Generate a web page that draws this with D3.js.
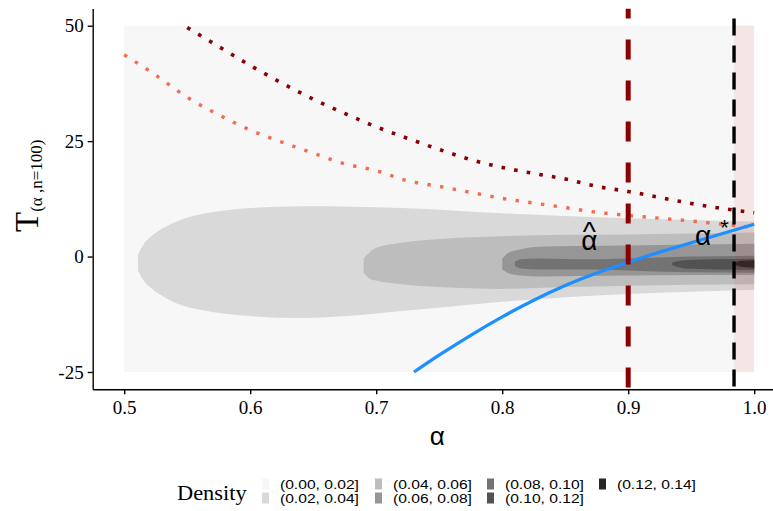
<!DOCTYPE html>
<html>
<head>
<meta charset="utf-8">
<script src="https://cdn.jsdelivr.net/npm/d3@7"></script>
<style>
  body { margin: 0; background: #fff; }
  svg { display: block; }
</style>
</head>
<body>
<svg id="chart"></svg>
<script>
// tick labels
const xTicks = [0.5, 0.6, 0.7, 0.8, 0.9, 1.0];
const yTicks = [-25, 0, 25, 50];

// density legend
const densityLevels = ['(0.00, 0.02]', '(0.02, 0.04]', '(0.04, 0.06]', '(0.06, 0.08]',
  '(0.08, 0.10]', '(0.10, 0.12]', '(0.12, 0.14]'];

// density bands, one per level: alpha, lower and upper T
const band1Alpha = [0.5, 1.0];
const band1Lo = [-25, -25];
const band1Hi = [50, 50];

const band2Alpha = [0.511, 0.515, 0.52, 0.53, 0.545, 0.56, 0.58, 0.6, 0.64, 0.68, 0.72, 0.76, 0.8, 0.85, 0.9, 0.95, 1.0];
const band2Lo = [-3, -5, -6.5, -8.5, -10.5, -11.5, -12.4, -12.9, -13.3, -12.8, -11.8, -10.8, -9.8, -8.8, -8.1, -7.6, -7.2];
const band2Hi = [0.5, 2.5, 4, 6, 8, 9.1, 10, 10.5, 10.9, 10.8, 10.5, 10.0, 9.4, 8.8, 8.3, 7.9, 7.6];

const band3Alpha = [0.69, 0.695, 0.70, 0.72, 0.75, 0.8, 0.85, 0.9, 0.95, 1.0];
const band3Lo = [-3.5, -4.8, -5.2, -6.0, -6.6, -7.0, -6.6, -6.3, -6.1, -6.0];
const band3Hi = [-0.5, 1.0, 1.9, 3.0, 3.8, 4.4, 4.7, 4.8, 5.0, 5.2];

const band4Alpha = [0.80, 0.805, 0.815, 0.83, 0.86, 0.9, 0.95, 1.0];
const band4Lo = [-2.8, -3.6, -4.1, -4.3, -4.2, -4.1, -4.0, -4.0];
const band4Hi = [-0.5, 0.8, 1.6, 2.1, 2.3, 2.4, 2.6, 2.8];

const band5Alpha = [0.81, 0.815, 0.83, 0.87, 0.91, 0.95, 1.0];
const band5Lo = [-2.0, -2.6, -2.8, -2.8, -3.1, -3.4, -3.5];
const band5Hi = [-1.2, -0.6, -0.4, -0.6, -0.3, 0.0, 0.2];

const band6Alpha = [0.935, 0.945, 0.97, 1.0];
const band6Lo = [-1.9, -2.6, -2.8, -2.9];
const band6Hi = [-1.3, -0.8, -0.6, -0.5];

const band7Alpha = [0.984, 0.99, 1.0];
const band7Lo = [-1.7, -2.2, -2.4];
const band7Hi = [-1.3, -0.9, -0.8];

// critical value curves
const curveAlpha = [0.5, 0.525, 0.55, 0.575, 0.6, 0.625, 0.65, 0.675, 0.7, 0.725, 0.75,
  0.775, 0.8, 0.825, 0.85, 0.875, 0.9, 0.925, 0.95, 0.975, 1.0];
const lowerCurve = [43.7, 39.3, 34.5, 30.7, 27.4, 24.8, 22.4, 20.1, 18.6, 16.4, 15.2,
  13.9, 12.6, 11.6, 10.6, 9.6, 8.9, 8.3, 7.7, 7.0, 6.3];
const upperCurve = [null, null, 49.6, 45.5, 41.4, 37.6, 34.1, 31.0, 28.1, 25.6, 23.2,
  21.0, 19.3, 18.0, 16.8, 15.2, 14.1, 12.8, 11.5, 10.4, 9.5];

// observed statistic
const obsAlpha = [0.73, 0.75, 0.775, 0.8, 0.825, 0.85, 0.875, 0.9, 0.925, 0.95, 0.975, 1.0];
const obsT = [-25, -21.3, -17.0, -13.0, -9.4, -6.2, -3.5, -1.2, 1.0, 3.0, 5.0, 7.0];

const alphaHat = 0.9;
const alphaStar = 0.984;

// greys for the density levels
const greys = ['#f7f7f7', '#d9d9d9', '#bdbdbd', '#969696', '#737373', '#525252', '#252525'];

const serif = "'Liberation Serif', 'Times New Roman', serif";
const sans = "'Liberation Sans', Arial, sans-serif";

const svgWidth = 773, svgHeight = 511;
const margin = {top: 8.4, left: 92.7};
const width = 693, height = 380.9;

const svg = d3.select('#chart').attr('width', svgWidth).attr('height', svgHeight);

const x = d3.scaleLinear().domain([0.475, 1.025]).range([0, width]);
const y = d3.scaleLinear().domain([-28.75, 53.75]).range([height, 0]);

svg.append('defs').append('clipPath').attr('id', 'panel')
  .append('rect').attr('width', width).attr('height', height);

const g = svg.append('g').attr('transform', `translate(${margin.left}, ${margin.top})`);
const plot = g.append('g').attr('clip-path', 'url(#panel)');

// density bands
const bands = [
  [band1Alpha, band1Lo, band1Hi],
  [band2Alpha, band2Lo, band2Hi],
  [band3Alpha, band3Lo, band3Hi],
  [band4Alpha, band4Lo, band4Hi],
  [band5Alpha, band5Lo, band5Hi],
  [band6Alpha, band6Lo, band6Hi],
  [band7Alpha, band7Lo, band7Hi]
];
const area = d3.area()
  .x(d => x(d.a))
  .y0(d => y(d.lo))
  .y1(d => y(d.hi));

bands.forEach((b, i) => {
  let pts = b[0].map((a, j) => ({a: a, lo: b[1][j], hi: b[2][j]}));
  area.curve(i === 0 ? d3.curveLinear : d3.curveMonotoneX);
  plot.append('path')
    .attr('fill', greys[i])
    .attr('d', area(pts));
});

// shaded region right of alpha*
plot.append('rect')
  .attr('x', x(alphaStar))
  .attr('width', x(1.0) - x(alphaStar))
  .attr('y', y(50))
  .attr('height', y(-25) - y(50))
  .attr('fill', 'rgb(225, 70, 50)')
  .attr('fill-opacity', 0.09);

// dotted critical curves
const line = d3.line()
  .defined(d => d.t !== null)
  .x(d => x(d.a))
  .y(d => y(d.t))
  .curve(d3.curveMonotoneX);

plot.append('path')
  .datum(curveAlpha.map((a, i) => ({a: a, t: lowerCurve[i]})))
  .attr('fill', 'none')
  .attr('stroke', '#f26c50')
  .attr('stroke-width', 3.4)
  .attr('stroke-dasharray', '3.4,9.4')
  .attr('d', line);

plot.append('path')
  .datum(curveAlpha.map((a, i) => ({a: a, t: upperCurve[i]})))
  .attr('fill', 'none')
  .attr('stroke', '#8b0000')
  .attr('stroke-width', 3.6)
  .attr('stroke-dasharray', '3.6,9.2')
  .attr('d', line);

// observed statistic
plot.append('path')
  .datum(obsAlpha.map((a, i) => ({a: a, t: obsT[i]})))
  .attr('fill', 'none')
  .attr('stroke', '#1e8fff')
  .attr('stroke-width', 3.2)
  .attr('d', line.curve(d3.curveBasis));

// vertical reference lines
plot.append('line')
  .attr('x1', x(alphaHat)).attr('x2', x(alphaHat))
  .attr('y1', 0).attr('y2', height)
  .attr('stroke', '#8b0000')
  .attr('stroke-width', 5)
  .attr('stroke-dasharray', '20,21')
  .attr('stroke-dashoffset', 10);

plot.append('line')
  .attr('x1', x(alphaStar)).attr('x2', x(alphaStar))
  .attr('y1', 0).attr('y2', height)
  .attr('stroke', '#000')
  .attr('stroke-width', 3.4)
  .attr('stroke-dasharray', '17,10')
  .attr('stroke-dashoffset', 17);

// annotations: alpha hat as one text, hat tspan pulled back over the alpha
const hatLabel = g.append('text')
  .attr('x', x(alphaHat) - 47).attr('y', 250 - margin.top)
  .style('font-family', sans)
  .style('font-size', '28px');
const alphaPart = hatLabel.append('tspan').text('α');
const hatPart = hatLabel.append('tspan').attr('dy', -8.5).text('^');
const wA = alphaPart.node().getComputedTextLength();
const wH = hatPart.node().getComputedTextLength();
hatPart.attr('dx', -(wA + wH) / 2);

const starLabel = g.append('text')
  .attr('x', x(alphaStar) - 39).attr('y', 245 - margin.top)
  .style('font-family', sans)
  .style('font-size', '28px');
starLabel.append('tspan').text('α');
starLabel.append('tspan').attr('dx', 9).attr('dy', -10).style('font-size', '22px').text('*');

// axes
const xAxis = g.append('g')
  .attr('transform', `translate(0, ${height})`)
  .call(d3.axisBottom(x).tickValues(xTicks).tickFormat(d3.format('.1f'))
    .tickSize(5).tickSizeOuter(0).tickPadding(6));
const yAxis = g.append('g')
  .call(d3.axisLeft(y).tickValues(yTicks).tickFormat(d => String(d))
    .tickSize(5).tickSizeOuter(0).tickPadding(4));

[xAxis, yAxis].forEach(ax => {
  ax.attr('font-family', null).attr('font-size', null);
  ax.select('.domain').attr('stroke', '#000').attr('stroke-width', 1.4);
  ax.selectAll('.tick line').attr('stroke', '#000').attr('stroke-width', 1.4);
  ax.selectAll('.tick text')
    .attr('fill', '#000')
    .style('font-family', serif)
    .style('font-size', '19px');
});

// axis titles
svg.append('text')
  .attr('x', margin.left + width / 2 - 2).attr('y', 445)
  .attr('text-anchor', 'middle')
  .style('font-family', sans)
  .style('font-size', '26px')
  .text('α');

const yTitle = svg.append('text')
  .attr('transform', 'translate(38, 232) rotate(-90)')
  .style('font-family', serif);
yTitle.append('tspan').style('font-size', '33px').text('T');
yTitle.append('tspan').style('font-size', '17px').attr('dy', 4).text('(α ,n=100)');

// legend
const legend = svg.append('g');
legend.append('text')
  .attr('transform', 'translate(177, 500) scale(1.12, 1)')
  .style('font-family', serif)
  .style('font-size', '20px')
  .text('Density');

const colX = [262, 375, 487, 599];
const rowY = [484, 498];
densityLevels.forEach((lab, i) => {
  let cx = colX[Math.floor(i / 2)], cy = rowY[i % 2];
  legend.append('rect')
    .attr('x', cx).attr('y', cy - 5.5)
    .attr('width', 7).attr('height', 11)
    .attr('fill', greys[i]);
  legend.append('text')
    .attr('transform', `translate(${cx + 18}, ${cy + 4.5}) scale(1.25, 1)`)
    .style('font-family', sans)
    .style('font-size', '12.5px')
    .text(lab);
});
</script>
</body>
</html>
